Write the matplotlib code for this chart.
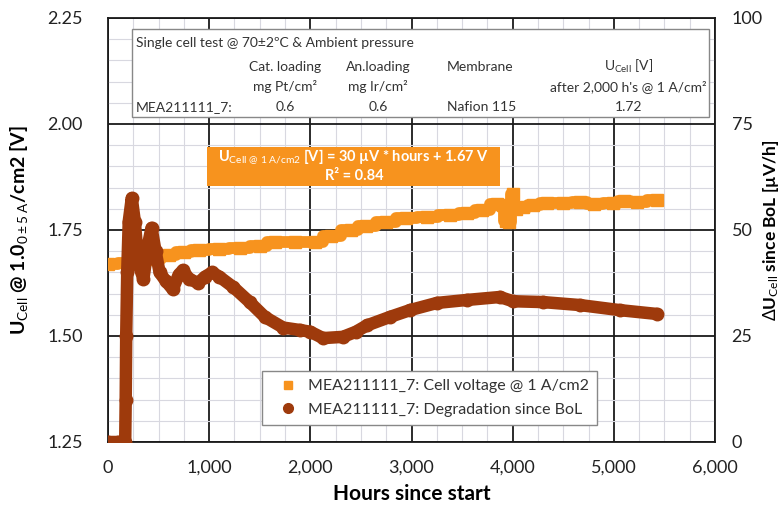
import numpy as np
import matplotlib
matplotlib.use('Agg')
from matplotlib import pyplot as plt
from matplotlib.lines import Line2D
from matplotlib.patches import Rectangle
from matplotlib.ticker import MultipleLocator, FuncFormatter

plt.rcParams['font.family'] = ['Lato', 'DejaVu Sans']
plt.rcParams['mathtext.fontset'] = 'custom'
plt.rcParams['mathtext.rm'] = 'Lato'
plt.rcParams['mathtext.it'] = 'Lato:italic'
plt.rcParams['mathtext.bf'] = 'Lato:bold'

# cell voltage @ 1 A/cm2 (left axis)
hours_v = [0, 200, 300, 450, 600, 750, 900, 1100, 1300, 1500, 1650, 1850, 2050,
           2200, 2400, 2550, 2750, 2950, 3150, 3380, 3550, 3700, 3850, 3900,
           3930, 3960, 4000, 4030, 4100, 4200, 4338, 4500, 4664, 4800, 4990,
           5100, 5227, 5425]
volt = [1.670, 1.672, 1.680, 1.682, 1.690, 1.698, 1.703, 1.706, 1.708, 1.712,
        1.722, 1.722, 1.722, 1.735, 1.750, 1.760, 1.769, 1.778, 1.780, 1.785,
        1.790, 1.797, 1.812, 1.808, 1.772, 1.770, 1.835, 1.800, 1.805, 1.808,
        1.814, 1.814, 1.816, 1.812, 1.814, 1.818, 1.816, 1.820]

# degradation since BoL (right axis, µV/h)
hours_d = [0, 100, 170, 175, 180, 190, 205, 235, 265, 300, 350, 400, 430, 470,
           510, 570, 640, 700, 740, 800, 890, 960, 1030, 1100, 1240, 1400, 1550,
           1730, 1900, 2000, 2125, 2322, 2450, 2559, 2787, 2984, 3251, 3547,
           3874, 4002, 4300, 4664, 5059, 5425]
degr = [0, 0, 0, 10, 25, 40, 52, 57.5, 52, 42, 38.5, 47, 50.5, 45, 40, 38, 36,
        39.5, 40.5, 38.5, 37.5, 39, 40, 39, 36.5, 33, 29.5, 27, 26.4, 26, 24.5,
        24.8, 26, 27.5, 29.5, 31.1, 32.8, 33.5, 34.2, 33.2, 33, 32.3, 31.1, 30.2]

orange = '#F7931E'
brown = '#9E3A0C'

fig = plt.figure(figsize=(7.84, 5.12), dpi=100)
ax = fig.add_axes([108/784, 1-442/512, 607/784, 424/512])

ax.plot(hours_v, volt, drawstyle='steps-mid', color=orange, lw=8.5, zorder=3)
ax.plot(hours_v, volt, ls='none', marker='s', ms=8, color=orange, zorder=3)
ax.set_xlim(0, 6000)
ax.set_ylim(1.25, 2.25)
ax.xaxis.set_major_locator(MultipleLocator(1000))
ax.xaxis.set_minor_locator(MultipleLocator(250))
ax.yaxis.set_major_locator(MultipleLocator(0.25))
ax.yaxis.set_minor_locator(MultipleLocator(0.05))
ax.xaxis.set_major_formatter(FuncFormatter(lambda v, p: f'{v:,.0f}'))
ax.yaxis.set_major_formatter(FuncFormatter(lambda v, p: f'{v:.2f}'))
ax.grid(which='major', color='#1a1a1a', lw=1.3)
ax.grid(which='minor', color='#d8d8e0', lw=0.8)
ax.set_axisbelow(True)
ax.tick_params(which='both', length=0, labelsize=13, labelcolor='#222222')
ax.tick_params(axis='x', pad=13)
ax.tick_params(axis='y', pad=18)
for s in ax.spines.values():
    s.set_color('#1a1a1a')
    s.set_linewidth(1.3)
ax.set_xlabel('Hours since start', fontsize=15, fontweight='bold', labelpad=6)
ax.set_ylabel(r'U$_{\mathrm{Cell}}$ @ 1.0$_{\mathrm{0\pm5\ A}}$/cm2 [V]',
              fontsize=14, fontweight='bold')
ax.yaxis.set_label_coords(-0.128, 0.5)

ax2 = ax.twinx()
ax2.plot(hours_d, degr, color=brown, lw=9, solid_capstyle='round',
         solid_joinstyle='round', zorder=4)
ax2.plot(hours_d, degr, ls='none', marker='o', ms=9, color=brown, zorder=4)
ax2.set_ylim(0, 100)
ax2.yaxis.set_major_locator(MultipleLocator(25))
ax2.tick_params(length=0, labelsize=13, labelcolor='#222222', pad=12)
ax2.set_ylabel(r'$\Delta$U$_{\mathrm{Cell}}$ since BoL [µV/h]',
               fontsize=12.5, fontweight='bold')
ax2.yaxis.set_label_coords(1.076, 0.5)
for s in ax2.spines.values():
    s.set_visible(False)

# info box
ax2.add_patch(Rectangle((0.0395, 0.7665), 0.951, 0.2075, transform=ax2.transAxes,
                        facecolor='white', edgecolor='#888888', lw=1, zorder=6))
fs = 10
tc = '#333333'
def t(x, y, s, ha='center'):
    ax2.text(x, y, s, transform=ax2.transAxes, ha=ha, va='center',
             fontsize=fs, color=tc, zorder=7)
t(0.046, 0.94, 'Single cell test @ 70±2ºC & Ambient pressure', ha='left')
t(0.292, 0.885, 'Cat. loading')
t(0.292, 0.838, 'mg Pt/cm²')
t(0.445, 0.885, 'An.loading')
t(0.445, 0.838, 'mg Ir/cm²')
t(0.613, 0.885, 'Membrane')
t(0.857, 0.885, r'U$_{\mathrm{Cell}}$ [V]')
t(0.857, 0.838, "after 2,000 h's @ 1 A/cm²")
t(0.046, 0.79, 'MEA211111_7:', ha='left')
t(0.292, 0.79, '0.6')
t(0.445, 0.79, '0.6')
t(0.616, 0.79, 'Nafion 115')
t(0.857, 0.79, '1.72')

# trend line label
ax2.add_patch(Rectangle((0.163, 0.604), 0.483, 0.092, transform=ax2.transAxes,
                        facecolor=orange, edgecolor='none', zorder=6))
ax2.text(0.405, 0.672, r'U$_{\mathrm{Cell\ @\ 1\ A/cm2}}$ [V] = 30 µV * hours + 1.67 V',
         transform=ax2.transAxes, ha='center', va='center', fontsize=10.5,
         fontweight='bold', color='white', zorder=7)
ax2.text(0.405, 0.627, 'R² = 0.84', transform=ax2.transAxes, ha='center',
         va='center', fontsize=10.5, fontweight='bold', color='white', zorder=7)

handles = [Line2D([], [], ls='none', marker='s', ms=6, color=orange),
           Line2D([], [], ls='none', marker='o', ms=7, color=brown)]
labels = ['MEA211111_7: Cell voltage @ 1 A/cm2',
          'MEA211111_7: Degradation since BoL']
leg = ax2.legend(handles, labels, loc='lower left', bbox_to_anchor=(0.254, 0.04),
                 fontsize=11.5, frameon=True, fancybox=False, edgecolor='#888888',
                 framealpha=1, handletextpad=0.2, borderpad=0.5, labelspacing=0.6,
                 borderaxespad=0, handlelength=2.2)
leg.get_frame().set_linewidth(1)
for txt in leg.get_texts():
    txt.set_color('#333333')
leg.set_zorder(8)

fig.savefig('out.png', dpi=100)
